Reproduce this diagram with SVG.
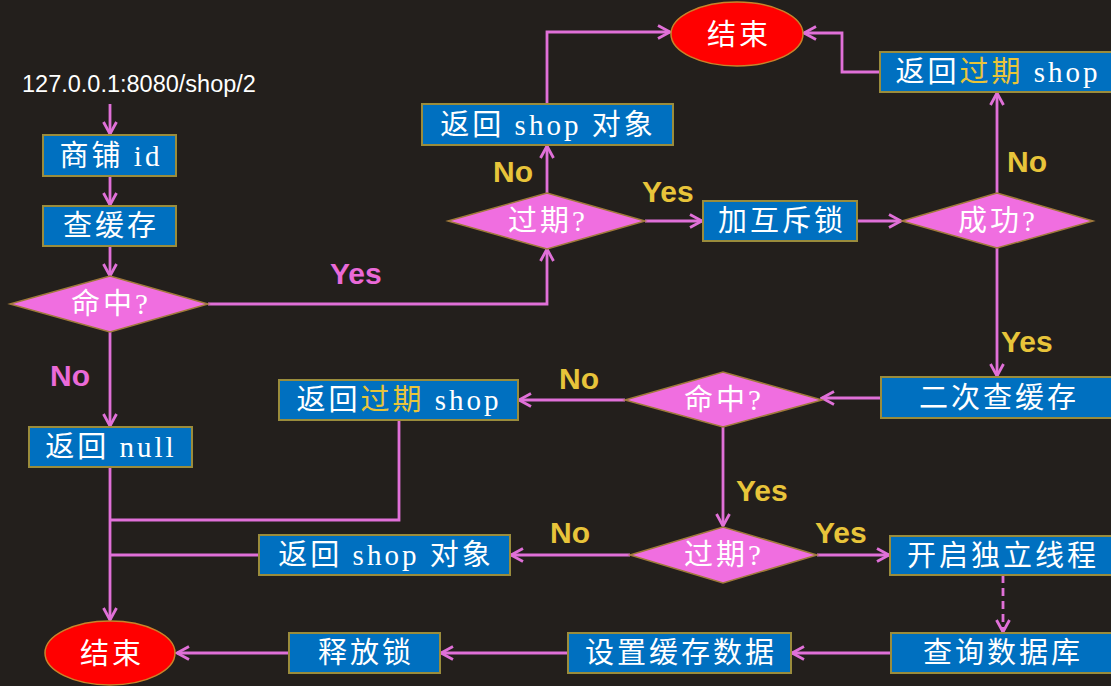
<svg xmlns="http://www.w3.org/2000/svg" width="1111" height="686" viewBox="0 0 1111 686">
<style>
.bg{fill:#231f1c}
.box{fill:#0070c0;stroke:#9a8c3c;stroke-width:2}
.dia{fill:#f06ee0;stroke:#a07a3a;stroke-width:1.5}
.ell{fill:#ff0000;stroke:#c8842a;stroke-width:1.5}
.t{font-family:"Liberation Serif","Noto Sans CJK SC",serif;font-size:29px;fill:#ffffff;text-anchor:middle;letter-spacing:3px}
.y{fill:#e8c43a}
.lbl{font-family:"Liberation Sans",Arial,sans-serif;font-weight:bold;font-size:30px}
.ly{fill:#e8c43a}
.lp{fill:#ea6ad8}
.url{font-family:"Liberation Sans",Arial,sans-serif;font-size:23.5px;fill:#ffffff}
.c{fill:none;stroke:#e070d8;stroke-width:2.8;marker-end:url(#ah)}
.dash{stroke-dasharray:8 5}
</style>
<defs>
<marker id="ah" markerUnits="userSpaceOnUse" markerWidth="16" markerHeight="16" viewBox="0 0 16 16" refX="14" refY="8" orient="auto">
<path d="M2,1.5 L14,8 L2,14.5" fill="none" stroke="#e070d8" stroke-width="2.8" stroke-linejoin="miter"/>
</marker>
</defs>
<rect class="bg" x="0" y="0" width="1111" height="686"/>

<g id="connectors">
<path class="c" d="M110,104 V134"/>
<path class="c" d="M110,176 V205"/>
<path class="c" d="M110,246 V276"/>
<path class="c" d="M110,332 V426"/>
<path class="c" d="M110,467 V620"/>
<path class="c" d="M399,420 V520 H110" style="marker-end:none"/>
<path class="c" d="M259,555 H110" style="marker-end:none"/>
<path class="c" d="M208,304 H547 V249"/>
<path class="c" d="M547,193 V146"/>
<path class="c" d="M645,221 H702"/>
<path class="c" d="M547,104 V32 H670"/>
<path class="c" d="M857,221 H901"/>
<path class="c" d="M997,193 V93"/>
<path class="c" d="M880,72 H842 V33 H804"/>
<path class="c" d="M997,248 V376"/>
<path class="c" d="M881,398 H822"/>
<path class="c" d="M625,400 H519"/>
<path class="c" d="M723,427 V526"/>
<path class="c" d="M630,555 H511"/>
<path class="c" d="M817,555 H889"/>
<path class="c dash" d="M1003,575 V632"/>
<path class="c" d="M891,653 H792"/>
<path class="c" d="M568,653 H441"/>
<path class="c" d="M289,653 H177"/>
</g>

<g id="labels">
<text class="lbl lp" x="330" y="284">Yes</text>
<text class="lbl lp" x="50" y="386">No</text>
<text class="lbl ly" x="493" y="182">No</text>
<text class="lbl ly" x="642" y="202">Yes</text>
<text class="lbl ly" x="1007" y="172">No</text>
<text class="lbl ly" x="1001" y="352">Yes</text>
<text class="lbl ly" x="559" y="389">No</text>
<text class="lbl ly" x="736" y="501">Yes</text>
<text class="lbl ly" x="550" y="543">No</text>
<text class="lbl ly" x="815" y="543">Yes</text>
</g>

<g id="start"><text class="url" x="22" y="92">127.0.0.1:8080/shop/2</text></g>

<g id="shopid"><rect class="box" x="43" y="135" width="133" height="41"/><text class="t" x="111" y="166">商铺 id</text></g>
<g id="cache"><rect class="box" x="43" y="206" width="133" height="40"/><text class="t" x="111" y="236">查缓存</text></g>
<g id="hit1"><polygon class="dia" points="10,304 110,276 208,304 110,332"/><text class="t" x="111" y="314">命中?</text></g>
<g id="retnull"><rect class="box" x="29" y="427" width="163" height="40"/><text class="t" x="111" y="457">返回 null</text></g>
<g id="end1"><ellipse class="ell" cx="110" cy="653" rx="65" ry="32"/><text class="t" x="112" y="664">结束</text></g>

<g id="expired1"><polygon class="dia" points="448,221 547,193 645,221 547,249"/><text class="t" x="548" y="231">过期?</text></g>
<g id="retshop1"><rect class="box" x="422" y="104" width="251" height="41"/><text class="t" x="548" y="135">返回 shop 对象</text></g>
<g id="end2"><ellipse class="ell" cx="737" cy="34" rx="66" ry="32"/><text class="t" x="739" y="45">结束</text></g>
<g id="lock"><rect class="box" x="703" y="201" width="154" height="40"/><text class="t" x="782" y="231">加互斥锁</text></g>
<g id="success"><polygon class="dia" points="902,221 997,193 1093,221 997,248"/><text class="t" x="998" y="231">成功?</text></g>
<g id="retexp1"><rect class="box" x="880" y="52" width="232" height="40"/><text class="t" x="998" y="82">返回<tspan class="y">过期</tspan> shop</text></g>

<g id="recheck"><rect class="box" x="881" y="377" width="232" height="41"/><text class="t" x="999" y="408">二次查缓存</text></g>
<g id="hit2"><polygon class="dia" points="625,400 723,372 822,400 723,427"/><text class="t" x="724" y="410">命中?</text></g>
<g id="retexp2"><rect class="box" x="279" y="380" width="239" height="40"/><text class="t" x="399" y="410">返回<tspan class="y">过期</tspan> shop</text></g>
<g id="expired2"><polygon class="dia" points="630,555 723,527 817,555 723,583"/><text class="t" x="724" y="565">过期?</text></g>
<g id="retshop2"><rect class="box" x="259" y="535" width="251" height="40"/><text class="t" x="386" y="565">返回 shop 对象</text></g>
<g id="thread"><rect class="box" x="890" y="536" width="222" height="39"/><text class="t" x="1003" y="566">开启独立线程</text></g>
<g id="querydb"><rect class="box" x="891" y="633" width="222" height="40"/><text class="t" x="1003" y="663">查询数据库</text></g>
<g id="setcache"><rect class="box" x="568" y="633" width="223" height="40"/><text class="t" x="681" y="663">设置缓存数据</text></g>
<g id="unlock"><rect class="box" x="289" y="633" width="151" height="40"/><text class="t" x="366" y="663">释放锁</text></g>
</svg>
